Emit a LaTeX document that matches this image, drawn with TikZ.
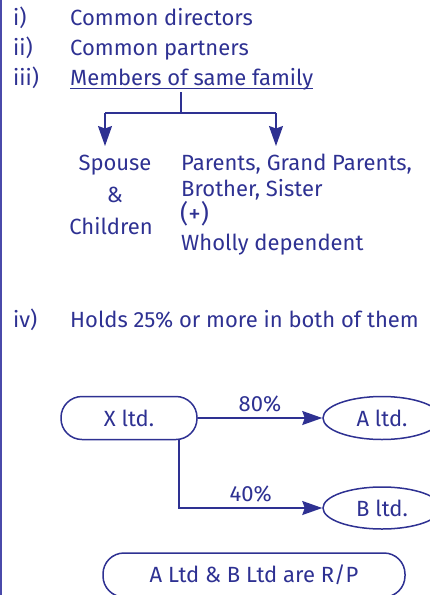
\documentclass[tikz,border=0pt]{standalone}
\usepackage{fontspec}
\setmainfont{Fira Sans}
\usetikzlibrary{arrows.meta,shapes.geometric}
\definecolor{navy}{HTML}{2E3192}
\definecolor{edge}{HTML}{4A4AAA}
\begin{document}
\begin{tikzpicture}[x=1pt,y=-1pt,
  txt/.style={text=navy,font=\fontsize{22}{24}\selectfont,inner sep=0pt},
  ln/.style={draw=navy,line width=1.5pt},
  arr/.style={ln,-{Stealth[length=20pt,width=14pt,inset=2.5pt]}},
  pill/.style={draw=navy,line width=1.5pt,rounded corners=21pt,text=navy,font=\fontsize{22}{24}\selectfont},
  oval/.style={draw=navy,line width=1.5pt,ellipse,text=navy,font=\fontsize{22}{24}\selectfont,inner sep=0pt}]
\useasboundingbox (0,0) rectangle (430,595);
\draw[edge,line width=1.5pt] (0.75,0) -- (0.75,595);
% list
\node[txt,anchor=base west] (n1) at (13,25) {i)};
\node[txt,anchor=base west] (t1) at (70,25) {Common directors};
\node[txt,anchor=base west] (n2) at (13,55) {ii)};
\node[txt,anchor=base west] (t2) at (70,55) {Common partners};
\node[txt,anchor=base west] (n3) at (13,85) {iii)};
\node[txt,anchor=base west] (t3) at (70,85) {Members of same family};
\draw[navy,line width=1pt] (70,88.5) -- (313,88.5);
\coordinate (top) at (181,92);
\coordinate (mid) at (181,113);
\coordinate (lc) at (105,113);
\coordinate (rc) at (276,113);
\coordinate (la) at (105,146);
\coordinate (ra) at (276,146);
\draw[ln] (top) -- (mid);
\draw[ln] (lc) -- (rc);
\draw[arr] (lc) -- (la);
\draw[arr] (rc) -- (ra);
\node[txt,anchor=base] (sp) at (115,170) {Spouse};
\node[txt,anchor=base] (amp) at (115,202) {\&};
\node[txt,anchor=base] (ch) at (111,234) {Children};
\node[txt,anchor=base west] (p1) at (181,170) {Parents, Grand Parents,};
\node[txt,anchor=base west] (p2) at (181,196) {Brother, Sister};
\node[txt,anchor=base west,font=\fontsize{25}{27}\selectfont] (p3) at (180,222) {(+)};
\node[txt,anchor=base west] (p4) at (181,250) {Wholly dependent};
\node[txt,anchor=base west] (n4) at (13,327) {iv)};
\node[txt,anchor=base west] (t4) at (70,327) {Holds 25\% or more in both of them};
% chart
\node[pill,minimum width=136pt,minimum height=43pt] (X) at (129,418) {X ltd.};
\node[oval,minimum width=118pt,minimum height=43pt] (A) at (382,418) {A ltd.};
\node[oval,minimum width=118pt,minimum height=42pt] (B) at (382,508) {B ltd.};
\draw[arr] (X.east) -- (A.west) node[midway,above=5pt,txt] (l80) {80\%};
\coordinate (xb) at (179,439);
\draw[arr] (xb) |- (B.west) node[pos=0.75,above=5pt,txt] (l40) {40\%};
\node[pill,minimum width=302pt,minimum height=44pt] (R) at (254,575) {A Ltd \& B Ltd are R/P};
\end{tikzpicture}
\end{document}
